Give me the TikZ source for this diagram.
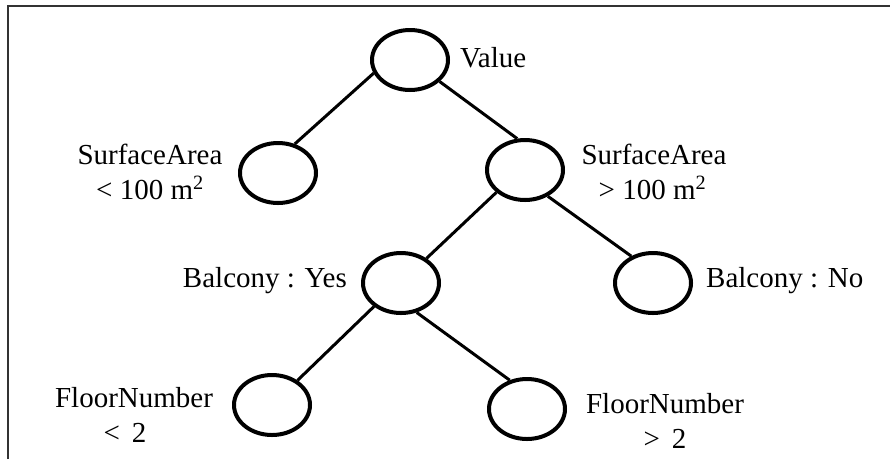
\documentclass[tikz,border=0pt]{standalone}
\usepackage{fontspec}
\setmainfont{Liberation Serif}
\usetikzlibrary{shapes.geometric}
\tikzset{
  leaf/.style={ellipse, draw, line width=4pt, minimum width=76pt, minimum height=60pt, inner sep=0pt},
  edge/.style={line width=3pt},
  lbl/.style={inner sep=0pt, font=\fontsize{29}{35}\selectfont},
  frame/.style={line width=1.8pt, draw=black!80}
}
\begin{document}
\begin{tikzpicture}[x=1pt,y=-1pt]
\useasboundingbox (0,0) rectangle (890,459);
\coordinate (fa) at (8.3,459);
\coordinate (fb) at (8.3,5.8);
\coordinate (fc) at (890,5.8);
\draw[frame] (fa) -- (fb) -- (fc);

\node[leaf] (root) at (410,60) {};
\node[leaf] (sa1) at (278,173) {};
\node[leaf] (sa2) at (525,170) {};
\node[leaf] (byes) at (401,283) {};
\node[leaf] (bno) at (653,283) {};
\node[leaf] (f1) at (272,405) {};
\node[leaf] (f2) at (527,409) {};

\draw[edge] (root.200) -- (sa1.60);
\draw[edge] (root.324) -- (sa2.104);
\draw[edge] (sa2.218) -- (byes.44);
\draw[edge] (sa2.311) -- (bno.129);
\draw[edge] (byes.221) -- (f1.44);
\draw[edge] (byes.298) -- (f2.121);

\node[lbl, anchor=base west] (lroot) at (460,67) {Value};
\node[lbl, anchor=base] (lsa1) at (150,164) {\setlength{\tabcolsep}{0pt}\begin{tabular}[t]{c}SurfaceArea\\< 100 m\textsuperscript{2}\end{tabular}};
\node[lbl, anchor=base] (lsa2) at (654,164) {\setlength{\tabcolsep}{0pt}\begin{tabular}[t]{c}SurfaceArea\\\kern-3pt> 100 m\textsuperscript{2}\end{tabular}};
\node[lbl, anchor=base east] (lbyes) at (347,287) {Balcony : Yes};
\node[lbl, anchor=base west] (lbno) at (706,287) {Balcony : No};
\node[lbl, anchor=base] (lf1) at (134,407) {\setlength{\tabcolsep}{0pt}\begin{tabular}[t]{c}FloorNumber\\<\kern12pt2\kern18pt\end{tabular}};
\node[lbl, anchor=base] (lf2) at (665,413) {\setlength{\tabcolsep}{0pt}\begin{tabular}[t]{c}FloorNumber\\>\kern12pt2\end{tabular}};
\end{tikzpicture}
\end{document}
